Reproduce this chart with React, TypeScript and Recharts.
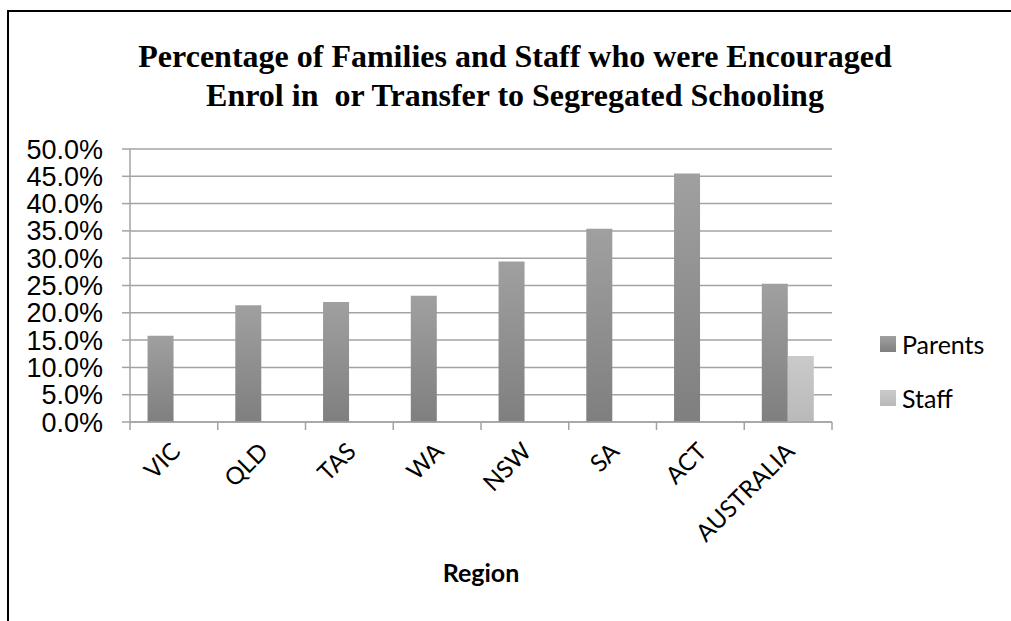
import { BarChart, Bar, XAxis, YAxis, CartesianGrid, Legend } from 'recharts'

const regions = ['VIC', 'QLD', 'TAS', 'WA', 'NSW', 'SA', 'ACT', 'AUSTRALIA']
const parents = [15.8, 21.4, 22.0, 23.1, 29.4, 35.4, 45.5, 25.3]
const staff: (number | null)[] = [null, null, null, null, null, null, null, 12.1]
const yTicks = [0, 5, 10, 15, 20, 25, 30, 35, 40, 45, 50]

const data = regions.map((name, i) => ({ name, Parents: parents[i], Staff: staff[i] }))

const GRID = '#a3a3a3'
const swatch: Record<string, string> = {
  Parents: 'linear-gradient(#a0a0a0, #7f7f7f)',
  Staff: 'linear-gradient(#cacaca, #b9b9b9)',
}

function RegionTick(props: any) {
  const { x, y, payload, index } = props
  const half = payload?.offset ?? 44
  const lx = x + 8
  const ly = y + 31
  return (
    <g>
      <line x1={x - half} y1={y} x2={x - half} y2={y + 8} stroke={GRID} strokeWidth={1.5} />
      {index === regions.length - 1 && (
        <line x1={x + half} y1={y} x2={x + half} y2={y + 8} stroke={GRID} strokeWidth={1.5} />
      )}
      <text
        x={lx}
        y={ly}
        transform={`rotate(-45, ${lx}, ${ly})`}
        textAnchor="end"
        fontFamily="Lato"
        fontSize={24}
        fill="#000"
      >
        {payload.value}
      </text>
    </g>
  )
}

function LegendBox(props: any) {
  const items = props.payload || []
  return (
    <div style={{ fontFamily: 'Lato', fontSize: 25, color: '#000' }}>
      {items.map((it: any) => (
        <div key={it.value} style={{ display: 'flex', alignItems: 'center', height: 28, marginBottom: 26 }}>
          <span style={{ width: 16, height: 16, background: swatch[it.value], marginRight: 6 }} />
          {it.value}
        </div>
      ))}
    </div>
  )
}

export default function App() {
  return (
    <div style={{ position: 'absolute', left: 0, top: 0, width: 1011, height: 621, background: '#fff', overflow: 'hidden' }}>
      <div style={{ position: 'absolute', left: 7, top: 10, width: 1011, height: 620, border: '2px solid #000' }} />
      <div
        style={{
          position: 'absolute', left: 0, top: 37, width: 1030, textAlign: 'center',
          fontFamily: '"Liberation Serif"', fontWeight: 'bold', fontSize: 32, lineHeight: '39px', color: '#000',
        }}
      >
        Percentage of Families and Staff who were Encouraged<br />
        Enrol in&nbsp; or Transfer to Segregated Schooling
      </div>
      <BarChart
        width={1011}
        height={621}
        data={data}
        margin={{ top: 149, right: 179, bottom: 39, left: 0 }}
        barCategoryGap="20%"
        barGap={0}
        style={{ position: 'absolute', left: 0, top: 0 }}
      >
        <defs>
          <linearGradient id="gParents" x1="0" y1="0" x2="0" y2="1">
            <stop offset="0%" stopColor="#a0a0a0" />
            <stop offset="100%" stopColor="#7f7f7f" />
          </linearGradient>
          <linearGradient id="gStaff" x1="0" y1="0" x2="0" y2="1">
            <stop offset="0%" stopColor="#cacaca" />
            <stop offset="100%" stopColor="#b9b9b9" />
          </linearGradient>
        </defs>
        <CartesianGrid vertical={false} stroke={GRID} strokeWidth={1.5} />
        <XAxis
          dataKey="name"
          interval={0}
          height={160}
          tickSize={0}
          tickMargin={0}
          tickLine={false}
          axisLine={{ stroke: GRID, strokeWidth: 1.5 }}
          tick={<RegionTick />}
          label={{
            value: 'Region', position: 'insideBottom', offset: 0,
            style: { fontFamily: 'Lato', fontWeight: 'bold', fontSize: 25, fill: '#000' },
          }}
        />
        <YAxis
          width={130}
          domain={[0, 50]}
          ticks={yTicks}
          interval={0}
          tickFormatter={(v: number) => `${v.toFixed(1)}%`}
          tickSize={8}
          tickMargin={19}
          tickLine={{ stroke: GRID, strokeWidth: 1.5 }}
          axisLine={{ stroke: GRID, strokeWidth: 1.5 }}
          tick={{ fontFamily: '"Liberation Sans"', fontSize: 27, fill: '#000' }}
        />
        <Legend
          layout="vertical"
          align="center"
          verticalAlign="middle"
          wrapperStyle={{ left: 880, top: 330, width: 130 }}
          content={<LegendBox />}
        />
        <Bar dataKey="Parents" fill="url(#gParents)" isAnimationActive={false} />
        <Bar dataKey="Staff" fill="url(#gStaff)" isAnimationActive={false} />
      </BarChart>
    </div>
  )
}
